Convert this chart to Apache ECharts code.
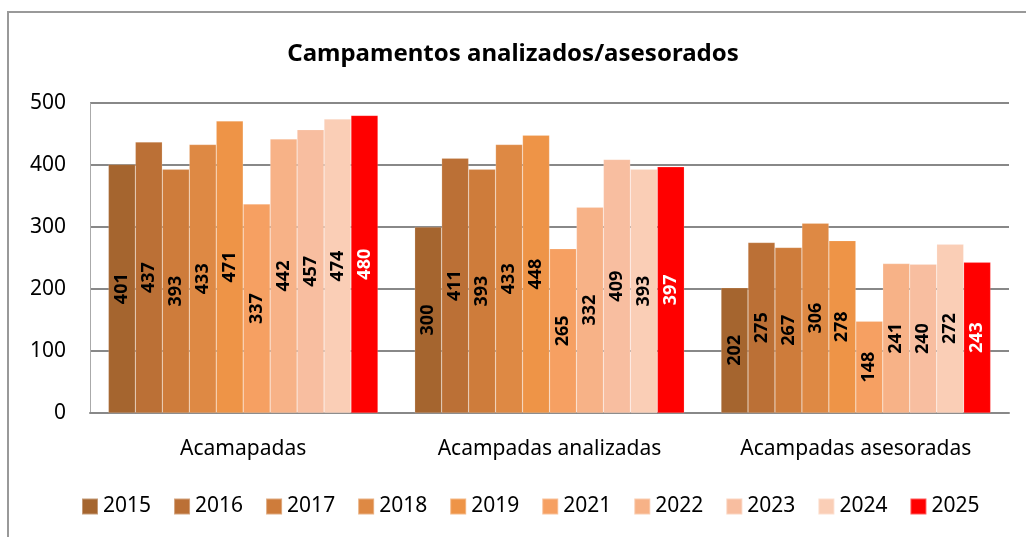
<!DOCTYPE html>
<html>
<head>
<meta charset="utf-8">
<script src="https://cdn.jsdelivr.net/npm/echarts@6/dist/echarts.min.js"></script>
<style>
  html, body { margin: 0; padding: 0; background: #fff; }
  #chart { width: 1026px; height: 537px; }
</style>
</head>
<body>
<div id="chart"></div>
<script>
// categorias y datos por año
var categories = ['Acamapadas', 'Acampadas analizadas', 'Acampadas asesoradas']
var years = ['2015', '2016', '2017', '2018', '2019', '2021', '2022', '2023', '2024', '2025']
var yearColors = ['#A5652F', '#BB7036', '#CE7C3B', '#DE8944', '#EE9447', '#F6A062', '#F7B287', '#F8BEA0', '#FACEB6', '#FF0000']
var acampadas = [401, 437, 393, 433, 471, 337, 442, 457, 474, 480]
var analizadas = [300, 411, 393, 433, 448, 265, 332, 409, 393, 397]
var asesoradas = [202, 275, 267, 306, 278, 148, 241, 240, 272, 243]
var yTicks = [0, 100, 200, 300, 400, 500]

var font = 'Noto Sans'

// una serie por año
var series = years.map(function(y, i) {
  return {
    name: y,
    type: 'bar',
    data: [acampadas[i], analizadas[i], asesoradas[i]],
    barGap: '0%',
    barCategoryGap: '12%',
    itemStyle: { color: yearColors[i], borderColor: 'rgba(255,255,255,0.35)', borderWidth: 0.5 },
    label: {
      show: true,
      position: 'inside',
      rotate: 90,
      fontFamily: font,
      fontWeight: 'bold',
      fontSize: 18,
      color: i === years.length - 1 ? '#fff' : '#000'
    }
  }
})

var myChart = echarts.init(document.getElementById('chart'))
var option = {
  animation: false,
  backgroundColor: '#fff',
  title: {
    text: 'Campamentos analizados/asesorados',
    left: 'center',
    top: 37,
    textStyle: { fontFamily: font, fontWeight: 'bold', fontSize: 24, color: '#000' }
  },
  grid: { left: 90, right: 17, top: 103, bottom: 124, containLabel: false },
  legend: {
    data: years,
    bottom: 15,
    left: 76,
    itemWidth: 16,
    itemHeight: 16,
    itemGap: 22,
    icon: 'rect',
    textStyle: { fontFamily: font, fontSize: 21, color: '#000' }
  },
  xAxis: {
    type: 'category',
    data: categories,
    axisLine: { lineStyle: { color: '#888', width: 2 } },
    axisTick: { show: false },
    axisLabel: { fontFamily: font, fontSize: 21, color: '#000', margin: 26 }
  },
  yAxis: {
    type: 'value',
    min: yTicks[0],
    max: yTicks[yTicks.length - 1],
    interval: 100,
    axisLine: { show: true, lineStyle: { color: '#aaa', width: 1 } },
    axisTick: { show: false },
    splitLine: { lineStyle: { color: '#888', width: 2 } },
    axisLabel: { fontFamily: font, fontSize: 21, color: '#000', margin: 24 }
  },
  graphic: [{
    type: 'rect',
    shape: { x: 8, y: 12, width: 1040, height: 560 },
    style: { fill: null, stroke: '#999', lineWidth: 2 },
    silent: true
  }],
  series: series
}
myChart.setOption(option)
</script>
</body>
</html>
